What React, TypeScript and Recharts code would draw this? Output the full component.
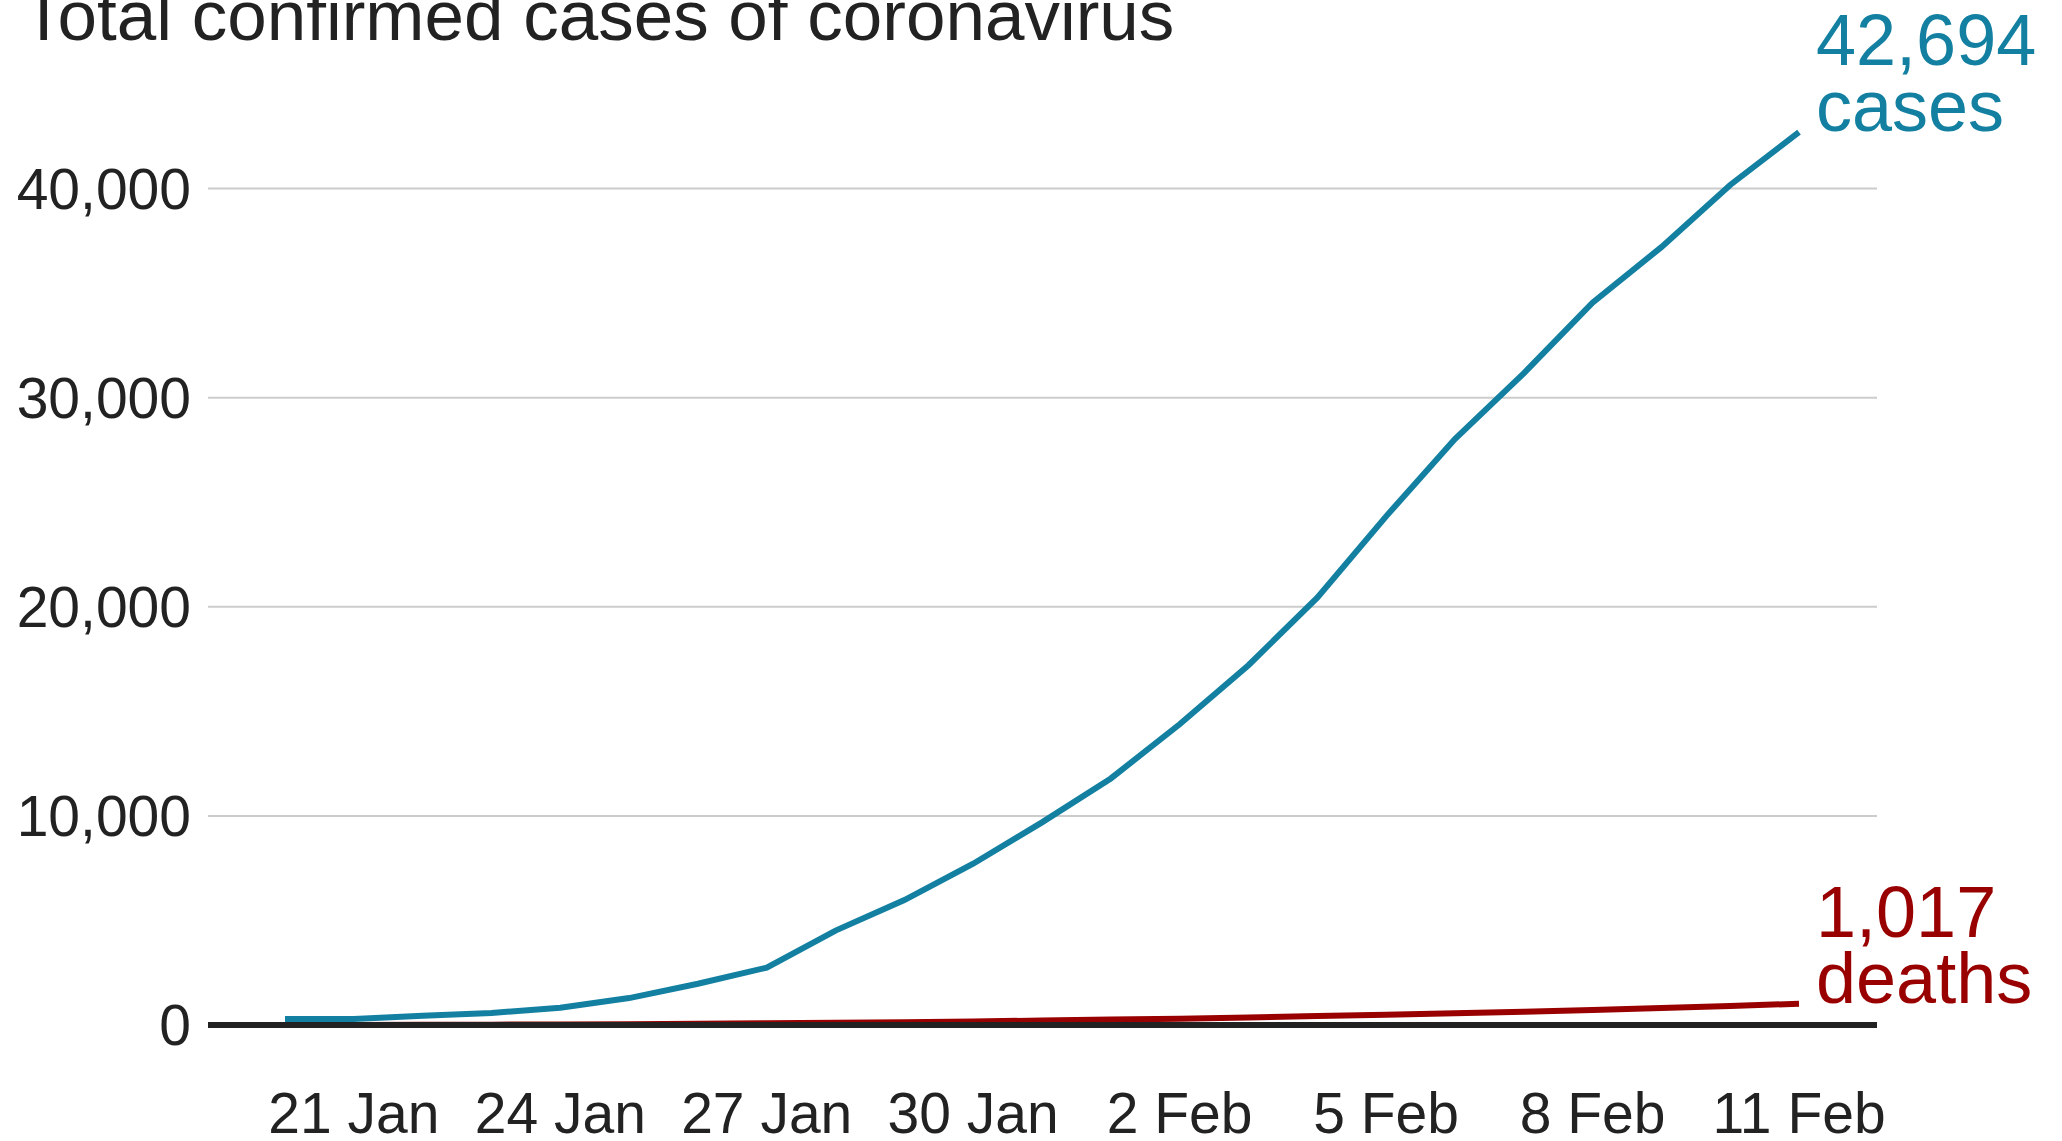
import { LineChart, Line, XAxis, YAxis, CartesianGrid } from "recharts";

const dates = [
  "20 Jan", "21 Jan", "22 Jan", "23 Jan", "24 Jan", "25 Jan", "26 Jan", "27 Jan",
  "28 Jan", "29 Jan", "30 Jan", "31 Jan", "1 Feb", "2 Feb", "3 Feb", "4 Feb",
  "5 Feb", "6 Feb", "7 Feb", "8 Feb", "9 Feb", "10 Feb", "11 Feb",
];

const cases = [
  282, 291, 440, 571, 830, 1287, 1975, 2744, 4515, 5974, 7711, 9692,
  11791, 14380, 17205, 20438, 24324, 28018, 31161, 34546, 37198, 40171, 42694,
];

const deaths = [
  6, 6, 9, 17, 25, 41, 56, 80, 106, 132, 170, 213,
  259, 304, 361, 425, 490, 563, 636, 722, 811, 908, 1017,
];

const xTicks = ["21 Jan", "24 Jan", "27 Jan", "30 Jan", "2 Feb", "5 Feb", "8 Feb", "11 Feb"];
const yTicks = [0, 10000, 20000, 30000, 40000];

const data = dates.map((date, i) => ({ date, cases: cases[i], deaths: deaths[i] }));

const font = '"Liberation Sans", Arial, Helvetica, sans-serif';
const BLUE = "#1380A1";
const RED = "#990000";
const last = dates.length - 1;

const endLabel = (word: string, color: string) => (props: any) => {
  if (props.index !== last) return null;
  const x = props.x + 17;
  return (
    <text x={x} y={props.y - 67} fill={color} fontSize={72} fontFamily={font}>
      <tspan x={x}>{Number(props.value).toLocaleString("en-US")}</tspan>
      <tspan x={x} dy={66}>{word}</tspan>
    </text>
  );
};

export default function App() {
  return (
    <div style={{ position: "absolute", left: 0, top: 0, width: 2062, height: 1141, fontFamily: font }}>
      <div
        style={{
          position: "absolute",
          left: 22,
          top: -19,
          fontSize: 71,
          lineHeight: "70px",
          color: "#222",
          whiteSpace: "nowrap",
        }}
      >
        Total confirmed cases of coronavirus
      </div>
      <LineChart width={2062} height={1141} data={data} margin={{ top: 84, right: 185, left: 0, bottom: 0 }}>
        <CartesianGrid vertical={false} stroke="#cccccc" strokeWidth={2} syncWithTicks />
        <XAxis
          dataKey="date"
          ticks={xTicks}
          interval={0}
          height={116}
          padding={{ left: 77, right: 78 }}
          tickLine={false}
          tickSize={0}
          tickMargin={68}
          axisLine={{ stroke: "#222", strokeWidth: 6 }}
          tick={{ fill: "#222", fontSize: 57, fontFamily: font }}
        />
        <YAxis
          domain={[0, 45000]}
          ticks={yTicks}
          width={208}
          axisLine={false}
          tickLine={false}
          tickSize={0}
          tickMargin={17}
          tickFormatter={(v: number) => v.toLocaleString("en-US")}
          tick={{ fill: "#222", fontSize: 57, fontFamily: font }}
        />
        <Line
          type="linear"
          dataKey="deaths"
          stroke={RED}
          strokeWidth={6}
          dot={false}
          isAnimationActive={false}
          label={endLabel("deaths", RED)}
        />
        <Line
          type="linear"
          dataKey="cases"
          stroke={BLUE}
          strokeWidth={6}
          dot={false}
          isAnimationActive={false}
          label={endLabel("cases", BLUE)}
        />
      </LineChart>
    </div>
  );
}
